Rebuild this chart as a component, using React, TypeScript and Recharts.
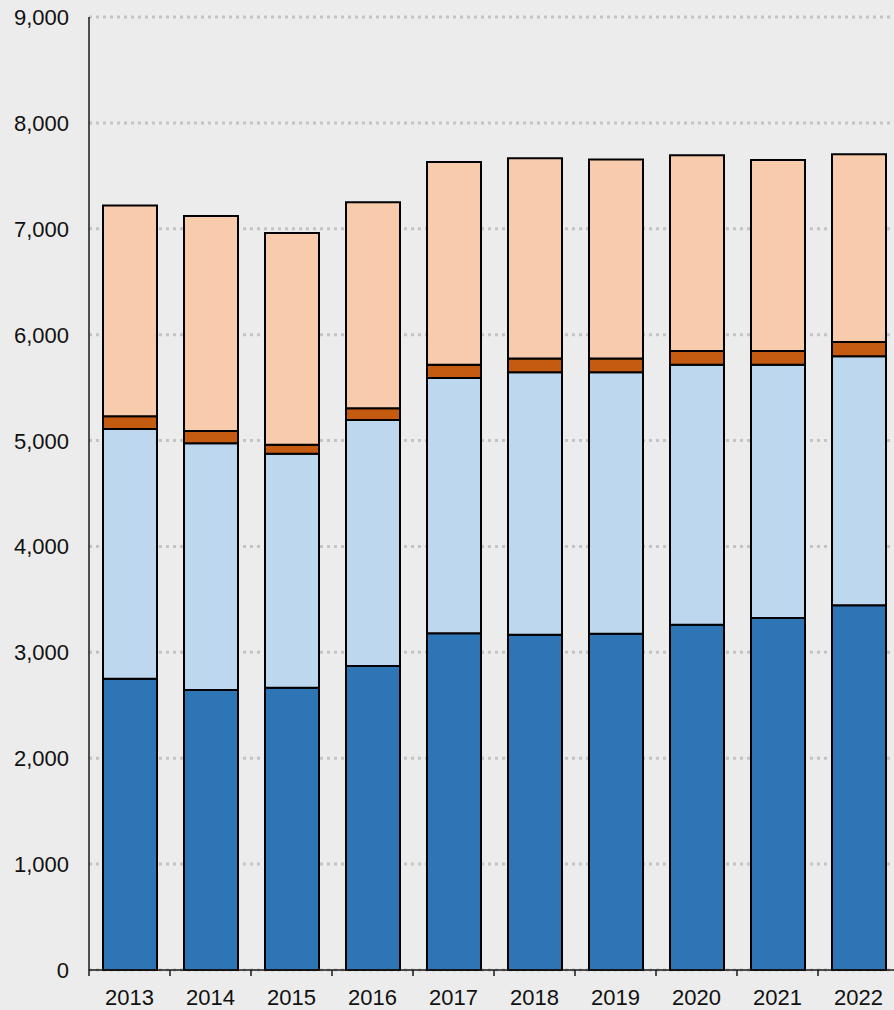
import { Bar, BarChart, CartesianGrid, XAxis, YAxis } from 'recharts';

const years = ['2013', '2014', '2015', '2016', '2017', '2018', '2019', '2020', '2021', '2022'];
const baseSeries = [2750, 2645, 2665, 2870, 3180, 3165, 3175, 3260, 3325, 3445];
const lightSeries = [2360, 2330, 2210, 2325, 2410, 2480, 2470, 2455, 2390, 2350];
const thinSeries = [120, 115, 85, 110, 125, 130, 130, 130, 130, 135];
const topSeries = [1990, 2030, 2000, 1945, 1915, 1890, 1880, 1850, 1805, 1775];
const yTicks = [0, 1000, 2000, 3000, 4000, 5000, 6000, 7000, 8000, 9000];

const data = years.map((year, i) => ({
    year,
    base: baseSeries[i],
    light: lightSeries[i],
    thin: thinSeries[i],
    top: topSeries[i]
}));

const fontFamily = 'Arial, "Liberation Sans", sans-serif';
const axisColor = '#1a1a1a';

// category labels, plus a small tick at the left edge of each band
const YearTick = (props: any) => {
    const { x, y, payload } = props;
    const half = payload?.offset || 40.5;
    return (
        <g>
            <line x1={x - half} x2={x - half} y1={y} y2={y + 6} stroke={axisColor} strokeWidth={1.5} />
            <text
                x={x}
                y={y + 35}
                textAnchor='middle'
                style={{ fontSize: 22, fontFamily }}
                fill='#111'
            >
                {payload.value}
            </text>
        </g>
    );
};

const ValueTick = (props: any) => {
    const { x, y, payload } = props;
    return (
        <text
            x={x}
            y={y + 8}
            textAnchor='end'
            style={{ fontSize: 22, fontFamily }}
            fill='#111'
        >
            {Number(payload.value).toLocaleString('en-US')}
        </text>
    );
};

export default function App() {
    return (
        <div
            style={{
                position: 'absolute',
                left: 0,
                top: 0,
                width: 894,
                height: 1010,
                background: '#ececec',
                overflow: 'hidden'
            }}
        >
            <BarChart
                width={899}
                height={1010}
                data={data}
                margin={{ top: 17, right: 0, bottom: 0, left: 0 }}
                barSize={54}
            >
                <CartesianGrid
                    vertical={false}
                    stroke='#c4c4c4'
                    strokeWidth={3}
                    strokeDasharray='3 4'
                />
                <XAxis
                    dataKey='year'
                    height={40}
                    tickLine={false}
                    tickSize={0}
                    tickMargin={0}
                    axisLine={{ stroke: axisColor, strokeWidth: 1.5 }}
                    tick={<YearTick />}
                    interval={0}
                />
                <YAxis
                    width={89}
                    domain={[0, 9000]}
                    ticks={yTicks}
                    interval={0}
                    tickLine={false}
                    tickSize={0}
                    tickMargin={20}
                    axisLine={{ stroke: axisColor, strokeWidth: 1.5 }}
                    tick={<ValueTick />}
                />
                <Bar dataKey='base' stackId='a' fill='#2e75b6' stroke='#000' strokeWidth={2} isAnimationActive={false} />
                <Bar dataKey='light' stackId='a' fill='#bdd7ee' stroke='#000' strokeWidth={2} isAnimationActive={false} />
                <Bar dataKey='thin' stackId='a' fill='#c55a11' stroke='#000' strokeWidth={2} isAnimationActive={false} />
                <Bar dataKey='top' stackId='a' fill='#f8cbad' stroke='#000' strokeWidth={2} isAnimationActive={false} />
            </BarChart>
        </div>
    );
}
